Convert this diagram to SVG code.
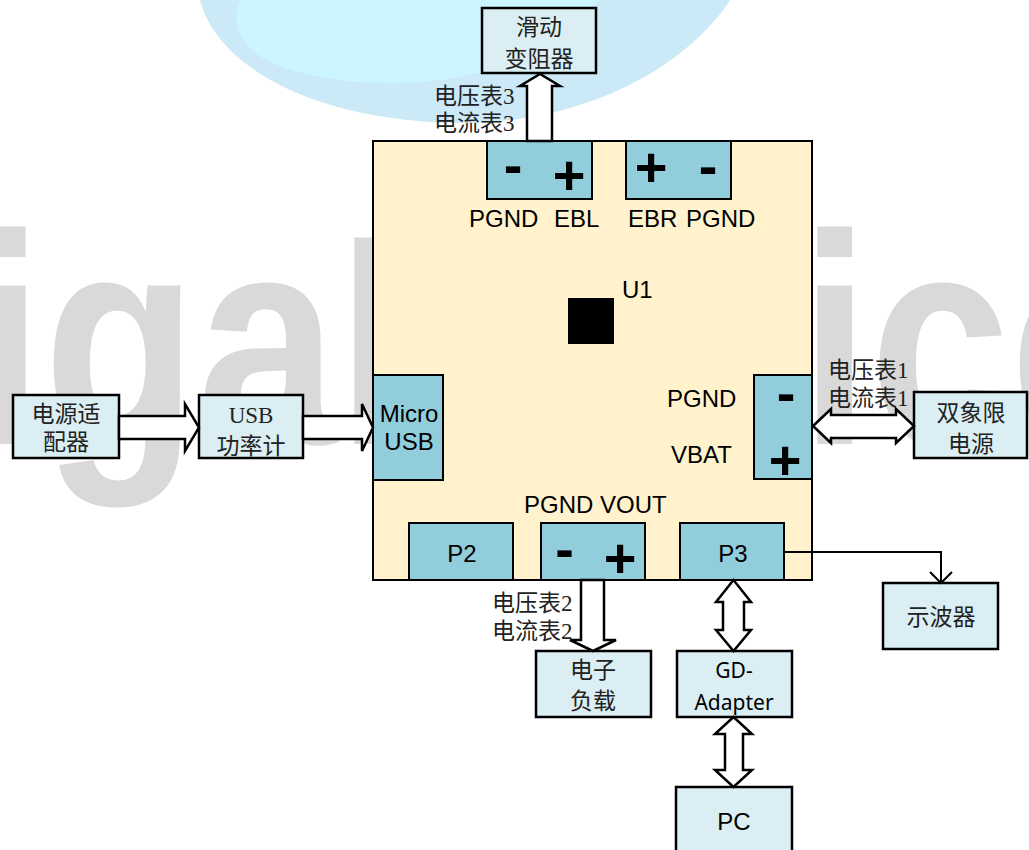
<svg xmlns="http://www.w3.org/2000/svg" width="1029" height="850" viewBox="0 0 1029 850">
<style>
.box{fill:#DAEEF3;stroke:#000;stroke-width:2.5}
.conn{fill:#92CDDC;stroke:#000;stroke-width:2}
.board{fill:#FFF2CC;stroke:#000;stroke-width:2}
.cjk{font-family:"Liberation Serif","Noto Sans CJK SC",serif;font-size:23px;fill:#222}
.sans{font-family:"Liberation Sans",Arial,sans-serif;font-size:24px;fill:#000}
.hum{font-family:"Noto Sans","Open Sans",sans-serif;font-size:21px;fill:#000}
.sign{font-family:"Liberation Sans",Arial,sans-serif;font-weight:bold;font-size:56px;fill:#000}
.mid{text-anchor:middle}
.arrow{fill:#fff;stroke:#000;stroke-width:2.5;stroke-linejoin:miter}
.line{fill:none;stroke:#000;stroke-width:2}
</style>
<rect width="1029" height="850" fill="#fff"/>
<g id="watermark">
<path d="M200,0 C215,60 300,118 450,123 C590,126 690,62 730,0 Z" fill="#CCE9F8"/>
<path d="M240,0 C232,20 236,45 270,62 C310,80 370,86 420,82 C480,78 545,58 600,0 Z" fill="#CCF6FF"/>
<text x="-265" y="444" transform="scale(0.84,1)" font-family="Liberation Sans" font-weight="bold" font-size="300" fill="#D9D9D9">GigaDevice</text>
</g>
<g id="board">
<rect class="board" x="373" y="141" width="439" height="439"/>
<rect x="568" y="298" width="46" height="46" fill="#000"/>
<text class="sans" x="622" y="298">U1</text>
</g>
<g id="conn-top-left">
<rect class="conn" x="487" y="141" width="105" height="58"/>
<text class="sign mid" x="513" y="183.6">-</text>
<text class="sign mid" x="569" y="193.6">+</text>
<text class="sans" x="469" y="227">PGND</text>
<text class="sans" x="554" y="227">EBL</text>
</g>
<g id="conn-top-right">
<rect class="conn" x="626" y="141" width="105" height="58"/>
<text class="sign mid" x="651" y="185.6">+</text>
<text class="sign mid" x="708" y="184.6">-</text>
<text class="sans" x="628" y="227">EBR</text>
<text class="sans" x="686" y="227">PGND</text>
</g>
<g id="micro-usb">
<rect class="conn" x="373" y="375" width="70" height="105"/>
<text class="sans mid" x="409" y="422">Micro</text>
<text class="sans mid" x="409" y="450">USB</text>
</g>
<g id="conn-right">
<rect class="conn" x="754" y="375" width="58" height="104"/>
<text class="sign mid" x="786" y="411.6">-</text>
<text class="sign mid" x="785" y="478.6">+</text>
<text class="sans" x="667" y="407">PGND</text>
<text class="sans" x="671" y="463">VBAT</text>
</g>
<g id="p2">
<rect class="conn" x="409" y="523" width="104" height="57"/>
<text class="sans mid" x="462" y="562" font-size="26">P2</text>
</g>
<g id="conn-bottom">
<rect class="conn" x="541" y="523" width="104" height="57"/>
<text class="sign mid" x="564.5" y="567.6">-</text>
<text class="sign mid" x="620" y="576.6">+</text>
<text class="sans" x="524" y="513">PGND VOUT</text>
</g>
<g id="p3">
<rect class="conn" x="680" y="523" width="104" height="57"/>
<text class="sans mid" x="733" y="562" font-size="26">P3</text>
</g>
<g id="rheostat">
<rect class="box" x="482" y="8" width="114" height="65"/>
<text class="cjk mid" x="539" y="35">滑动</text>
<text class="cjk mid" x="539" y="67">变阻器</text>
</g>
<g id="adapter">
<rect class="box" x="13" y="395" width="106" height="63"/>
<text class="cjk mid" x="66" y="422">电源适</text>
<text class="cjk mid" x="66" y="450">配器</text>
</g>
<g id="usb-meter">
<rect class="box" x="199" y="395" width="104" height="63"/>
<text class="cjk mid" x="251" y="423">USB</text>
<text class="cjk mid" x="251" y="454">功率计</text>
</g>
<g id="supply">
<rect class="box" x="914" y="392" width="113" height="66"/>
<text class="cjk mid" x="971" y="421">双象限</text>
<text class="cjk mid" x="971" y="452">电源</text>
</g>
<g id="scope">
<rect class="box" x="883" y="583" width="115" height="66"/>
<text class="cjk mid" x="941" y="625">示波器</text>
</g>
<g id="eload">
<rect class="box" x="536" y="651" width="115" height="66"/>
<text class="cjk mid" x="593" y="678">电子</text>
<text class="cjk mid" x="593" y="709">负载</text>
</g>
<g id="gd-adapter">
<rect class="box" x="677" y="651" width="115" height="66"/>
<text class="hum mid" x="734" y="678">GD-</text>
<text class="hum mid" x="734" y="710">Adapter</text>
</g>
<g id="pc">
<rect class="box" x="676" y="787" width="116" height="70"/>
<text class="sans mid" x="734" y="830" font-size="26">PC</text>
</g>
<g id="connectors">
<polygon class="arrow" points="527,141 527,86 520,86 540,74 560,86 552,86 552,141"/>
<polygon class="arrow" points="119,416 185,416 185,404 199,427.5 185,451 185,439 119,439"/>
<polygon class="arrow" points="303,416 362,416 362,404 373,427.5 362,451 362,439 303,439"/>
<polygon class="arrow" points="813,426 831,409 831,415 896,415 896,409 914,426 896,443 896,438 831,438 831,443"/>
<polygon class="arrow" points="581,580 581,640 570,640 593,651 616,640 604,640 604,580"/>
<polygon class="arrow" points="733.5,580 751,602 744,602 744,630 751,630 733.5,651 716,630 723,630 723,602 716,602"/>
<polygon class="arrow" points="733.5,717 752,734 743,734 743,770 752,770 733.5,787 715,770 725,770 725,734 715,734"/>
<polyline class="line" points="784,552 941,552 941,582"/>
<polyline class="line" points="930,572 941,583 952,572"/>
<text class="cjk" x="434" y="104">电压表3</text>
<text class="cjk" x="434" y="131">电流表3</text>
<text class="cjk" x="828" y="378">电压表1</text>
<text class="cjk" x="828" y="406">电流表1</text>
<text class="cjk" x="492" y="611">电压表2</text>
<text class="cjk" x="492" y="639">电流表2</text>
</g>
</svg>
